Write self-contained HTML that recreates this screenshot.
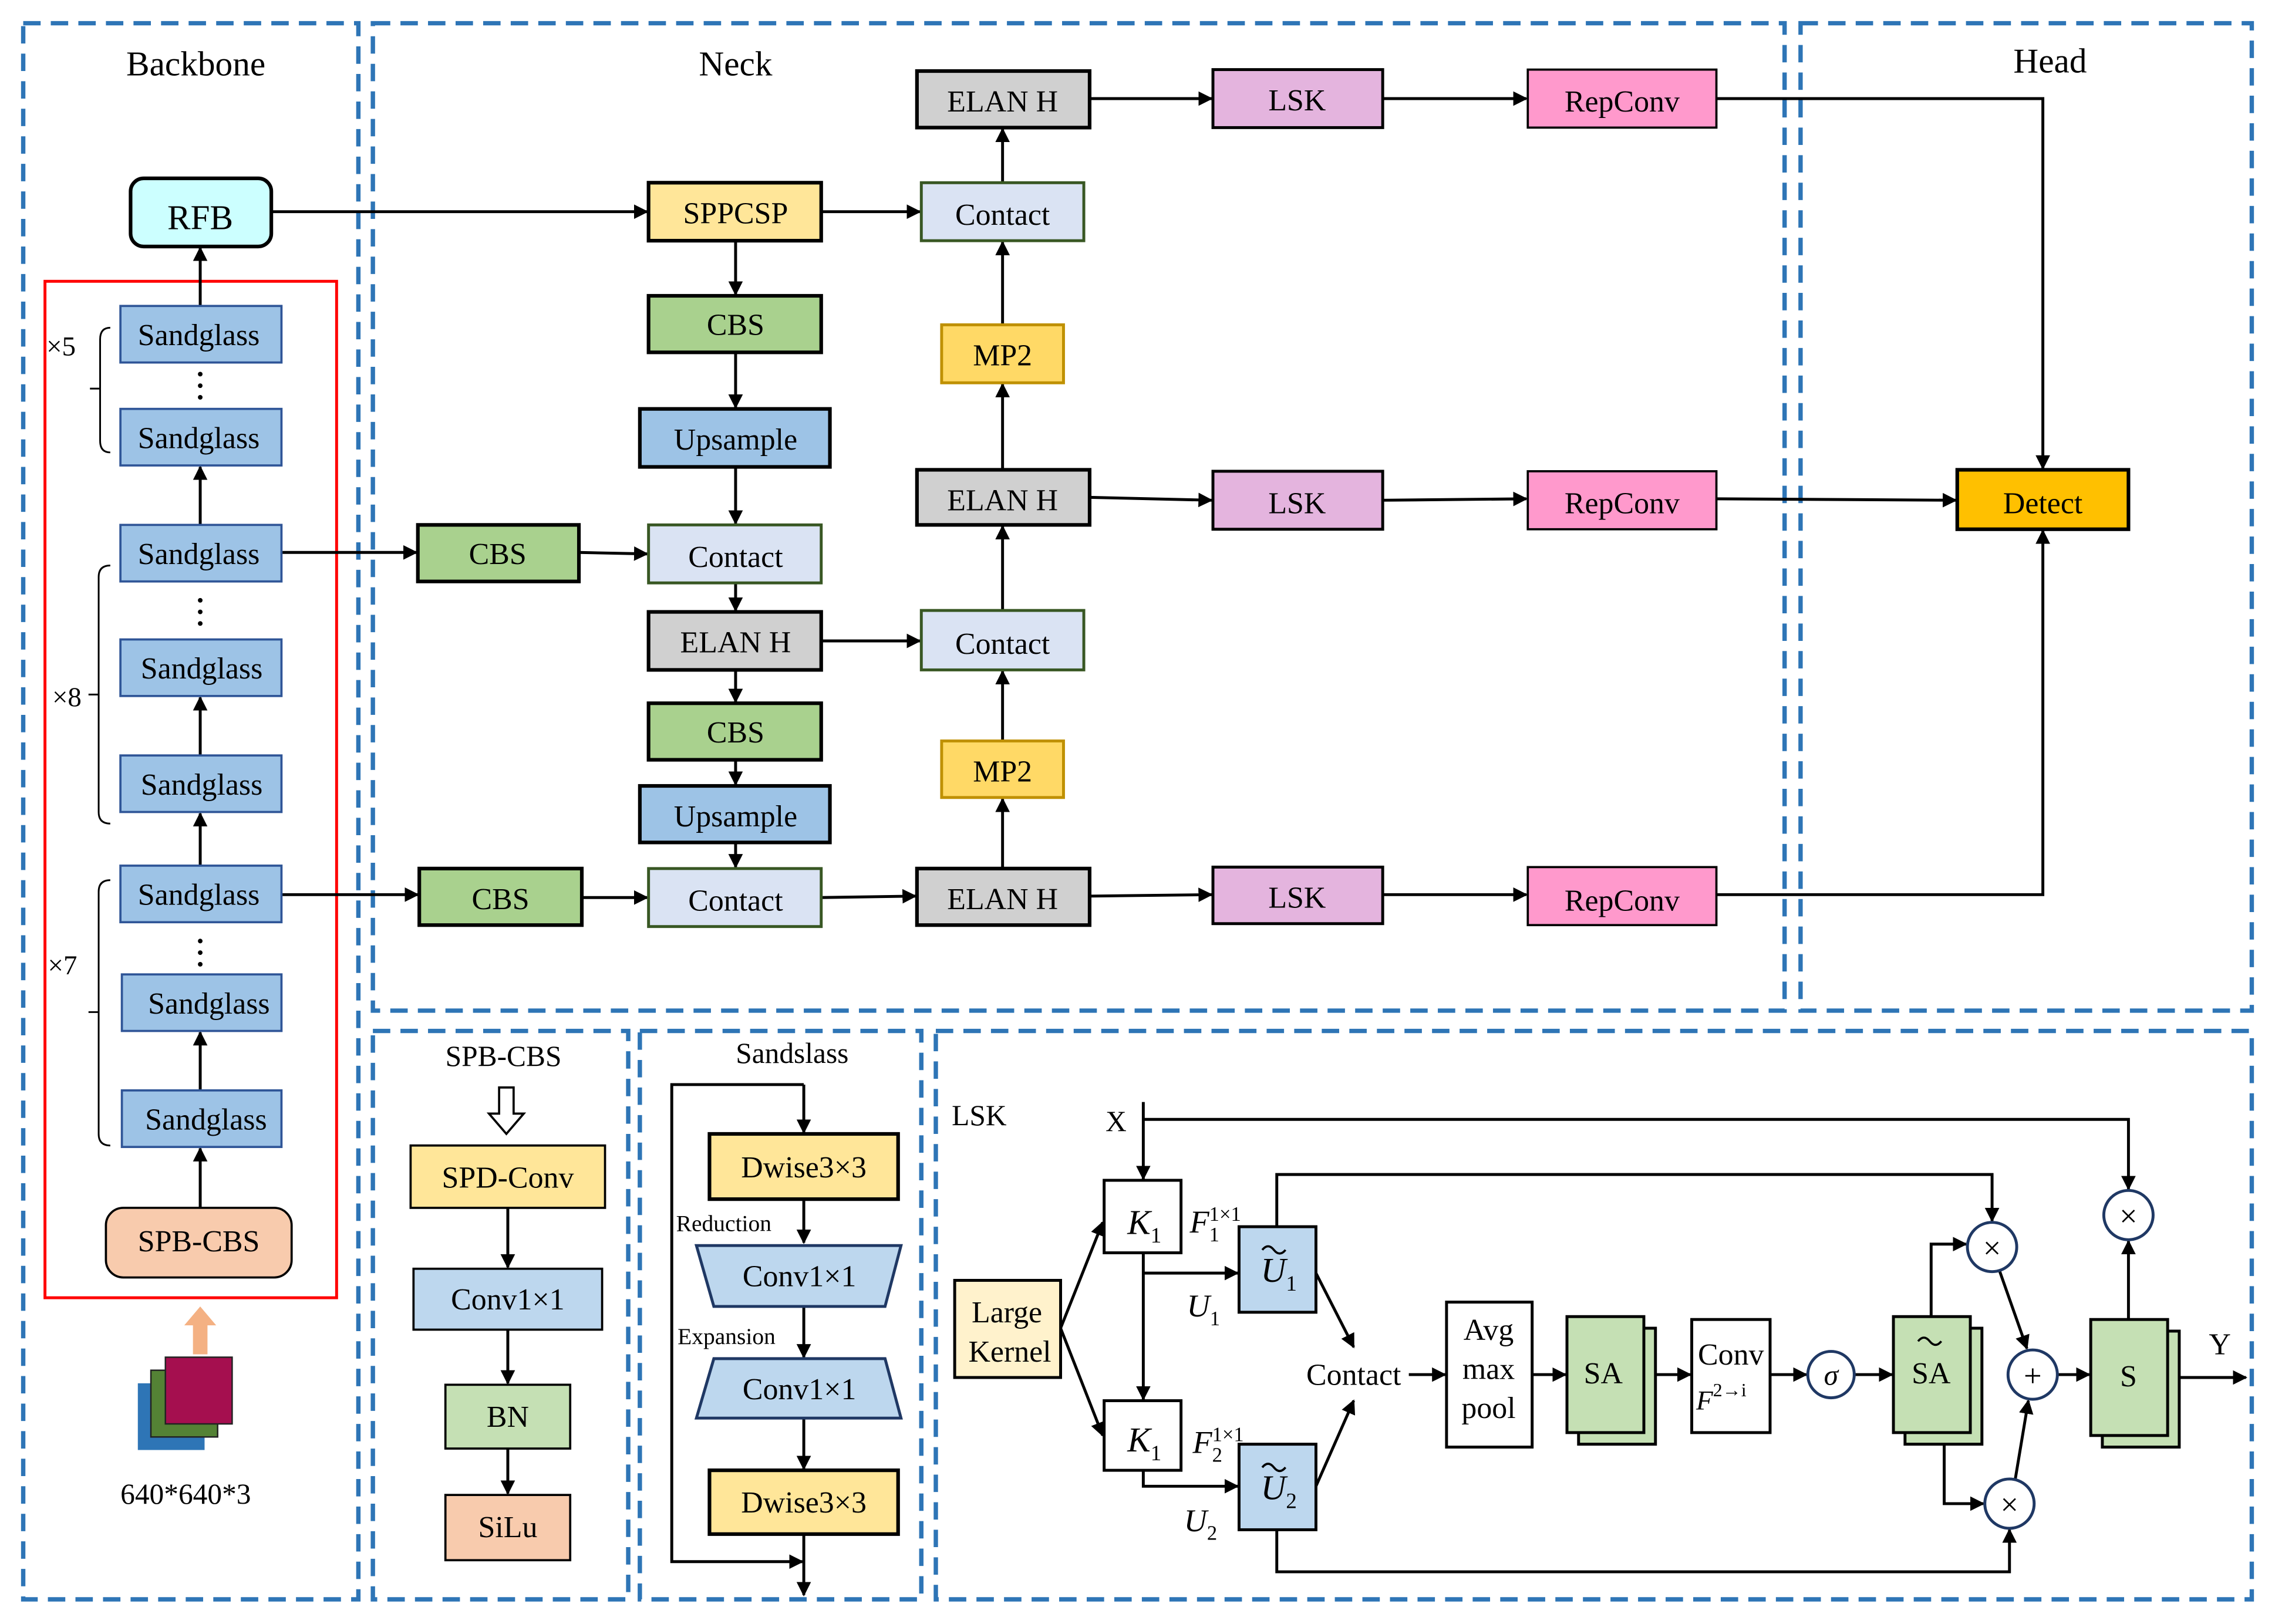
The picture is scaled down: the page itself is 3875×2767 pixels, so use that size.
<!DOCTYPE html>
<html><head><meta charset="utf-8"><style>
html,body{margin:0;padding:0;background:#fff}
svg{display:block}
svg, svg text{font-family:"Liberation Serif","DejaVu Serif",serif !important;fill:#000}
</style></head><body>
<svg width="3875" height="2767" viewBox="0 0 1568 1120" preserveAspectRatio="none" xmlns="http://www.w3.org/2000/svg" font-family="Liberation Serif, DejaVu Serif, serif">
<defs>
<marker id="a" markerWidth="10" markerHeight="10" refX="9" refY="5" orient="auto" markerUnits="userSpaceOnUse"><path d="M0,0 L10,5 L0,10 z" fill="#000"/></marker>
</defs>
<g fill="none" stroke="#2e75b6" stroke-width="3" stroke-dasharray="12,7">
<rect x="16" y="16" width="231" height="1087"/>
<rect x="257" y="16" width="973" height="681"/>
<rect x="1241" y="16" width="311" height="681"/>
<rect x="257" y="711" width="176" height="392"/>
<rect x="441" y="711" width="194" height="392"/>
<rect x="645" y="711" width="907" height="392"/>
</g>
<g font-size="24" text-anchor="middle">
<text x="135" y="52">Backbone</text><text x="507" y="52">Neck</text><text x="1413" y="50">Head</text>
</g>
<rect x="31" y="194" width="201" height="701" fill="none" stroke="#f00" stroke-width="2"/>
<g stroke="#000" stroke-width="2" fill="none" marker-end="url(#a)">
<line x1="138" y1="211" x2="138" y2="171"/>
<line x1="138" y1="362" x2="138" y2="322"/>
<line x1="138" y1="521" x2="138" y2="481"/>
<line x1="138" y1="597" x2="138" y2="561"/>
<line x1="138" y1="752" x2="138" y2="712"/>
<line x1="138" y1="833" x2="138" y2="792"/>
<line x1="187" y1="146" x2="446" y2="146"/>
<line x1="194" y1="381" x2="287" y2="381"/>
<line x1="399" y1="381" x2="446" y2="382"/>
<line x1="194" y1="617" x2="288" y2="617"/>
<line x1="401" y1="619" x2="446" y2="619"/>
<line x1="507" y1="166" x2="507" y2="203"/>
<line x1="507" y1="243" x2="507" y2="281"/>
<line x1="507" y1="322" x2="507" y2="361"/>
<line x1="507" y1="402" x2="507" y2="421"/>
<line x1="507" y1="462" x2="507" y2="484"/>
<line x1="507" y1="524" x2="507" y2="541"/>
<line x1="507" y1="581" x2="507" y2="598"/>
<line x1="566" y1="146" x2="634" y2="146"/>
<line x1="566" y1="442" x2="634" y2="442"/>
<line x1="566" y1="619" x2="631" y2="618"/>
<line x1="691" y1="126" x2="691" y2="89"/>
<line x1="691" y1="224" x2="691" y2="167"/>
<line x1="691" y1="324" x2="691" y2="265"/>
<line x1="691" y1="421" x2="691" y2="363"/>
<line x1="691" y1="511" x2="691" y2="463"/>
<line x1="691" y1="599" x2="691" y2="551"/>
<line x1="751" y1="68" x2="835" y2="68"/>
<line x1="751" y1="343" x2="835" y2="345"/>
<line x1="751" y1="618" x2="835" y2="617"/>
<line x1="953" y1="68" x2="1052" y2="68"/>
<line x1="953" y1="345" x2="1052" y2="344"/>
<line x1="953" y1="617" x2="1052" y2="617"/>
<polyline points="1183,68 1408,68 1408,323"/>
<line x1="1183" y1="344" x2="1348" y2="345"/>
<polyline points="1183,617 1408,617 1408,366"/>
<line x1="350" y1="833" x2="350" y2="874"/>
<line x1="350" y1="917" x2="350" y2="954"/>
<line x1="350" y1="999" x2="350" y2="1030"/>
<line x1="554" y1="748" x2="554" y2="781"/>
<line x1="554" y1="827" x2="554" y2="857"/>
<line x1="554" y1="901" x2="554" y2="936"/>
<line x1="554" y1="978" x2="554" y2="1013"/>
<line x1="554" y1="1058" x2="554" y2="1100"/>
<polyline points="554,748 463,748 463,1077 553,1077"/>
</g>
<rect x="90" y="123" width="97" height="47" rx="9" fill="#ccffff" stroke="#000" stroke-width="2.5"/>
<text x="138" y="158" font-size="24" text-anchor="middle">RFB</text>
<g fill="#9dc3e6" stroke="#2f5597" stroke-width="1.5">
<rect x="83" y="211" width="111" height="39"/><rect x="83" y="282" width="111" height="39"/>
<rect x="83" y="362" width="111" height="39"/><rect x="83" y="441" width="111" height="39"/>
<rect x="83" y="521" width="111" height="39"/><rect x="83" y="597" width="111" height="39"/>
<rect x="84" y="672" width="110" height="39"/><rect x="84" y="752" width="110" height="39"/>
</g>
<g font-size="21" text-anchor="middle">
<text x="137" y="238">Sandglass</text><text x="137" y="309">Sandglass</text>
<text x="137" y="389">Sandglass</text><text x="139" y="468">Sandglass</text>
<text x="139" y="548">Sandglass</text><text x="137" y="624">Sandglass</text>
<text x="144" y="699">Sandglass</text><text x="142" y="779">Sandglass</text>
</g>
<g fill="#000">
<circle cx="138" cy="258" r="1.6"/><circle cx="138" cy="266" r="1.6"/><circle cx="138" cy="274" r="1.6"/>
<circle cx="138" cy="414" r="1.6"/><circle cx="138" cy="422" r="1.6"/><circle cx="138" cy="430" r="1.6"/>
<circle cx="138" cy="649" r="1.6"/><circle cx="138" cy="657" r="1.6"/><circle cx="138" cy="665" r="1.6"/>
</g>
<g stroke="#000" stroke-width="1.2" fill="none">
<path d="M76,226 Q69,226 69,234 L69,304 Q69,312 76,312 M69,268 L62,268"/>
<path d="M76,390 Q68,390 68,398 L68,560 Q68,568 76,568 M68,479 L61,479"/>
<path d="M76,607 Q68,607 68,615 L68,782 Q68,790 76,790 M68,698 L61,698"/>
</g>
<g font-size="19"><text x="32" y="245">×5</text><text x="36" y="487">×8</text><text x="33" y="672">×7</text></g>
<rect x="73" y="833" width="128" height="48" rx="12" fill="#f8cbad" stroke="#000" stroke-width="1.5"/>
<text x="137" y="863" font-size="21" text-anchor="middle">SPB-CBS</text>
<path d="M133,934 L133,914 L127,914 L138,901 L149,914 L143,914 L143,934 z" fill="#f4b183"/>
<rect x="95" y="954" width="46" height="46" fill="#2e75b6"/>
<rect x="104" y="945" width="46" height="46" fill="#548235" stroke="#222" stroke-width="1"/>
<rect x="114" y="936" width="46" height="46" fill="#a50f4f" stroke="#222" stroke-width="1"/>
<text x="128" y="1037" font-size="20" text-anchor="middle">640*640*3</text>
<g stroke="#000" stroke-width="2.5">
<rect x="447" y="126" width="119" height="40" fill="#ffe699"/>
<rect x="447" y="204" width="119" height="39" fill="#a9d18e"/>
<rect x="441" y="282" width="131" height="40" fill="#9dc3e6"/>
<rect x="447" y="422" width="119" height="40" fill="#d0d0d0"/>
<rect x="447" y="485" width="119" height="39" fill="#a9d18e"/>
<rect x="441" y="542" width="131" height="39" fill="#9dc3e6"/>
<rect x="288" y="362" width="111" height="39" fill="#a9d18e"/>
<rect x="289" y="599" width="112" height="39" fill="#a9d18e"/>
<rect x="632" y="49" width="119" height="39" fill="#d0d0d0"/>
<rect x="632" y="324" width="119" height="38" fill="#d0d0d0"/>
<rect x="632" y="599" width="119" height="39" fill="#d0d0d0"/>
<rect x="1349" y="324" width="118" height="41" fill="#ffc000"/>
</g>
<g stroke="#385723" stroke-width="2" fill="#dae3f3">
<rect x="447" y="362" width="119" height="40"/><rect x="447" y="599" width="119" height="40"/>
<rect x="635" y="126" width="112" height="40"/><rect x="635" y="421" width="112" height="41"/>
</g>
<g stroke="#bf9000" stroke-width="2" fill="#ffd966">
<rect x="649" y="224" width="84" height="40"/><rect x="649" y="511" width="84" height="39"/>
</g>
<g stroke="#000" stroke-width="2" fill="#e4b4de">
<rect x="836" y="48" width="117" height="40"/><rect x="836" y="325" width="117" height="40"/><rect x="836" y="598" width="117" height="39"/>
</g>
<g stroke="#000" stroke-width="1.5" fill="#ff99cc">
<rect x="1053" y="48" width="130" height="40"/><rect x="1053" y="325" width="130" height="40"/><rect x="1053" y="598" width="130" height="40"/>
</g>
<g font-size="21" text-anchor="middle">
<text x="507" y="154">SPPCSP</text><text x="507" y="231">CBS</text><text x="507" y="310">Upsample</text>
<text x="507" y="391">Contact</text><text x="507" y="450">ELAN H</text><text x="507" y="512">CBS</text>
<text x="507" y="570">Upsample</text><text x="507" y="628">Contact</text>
<text x="343" y="389">CBS</text><text x="345" y="627">CBS</text>
<text x="691" y="77">ELAN H</text><text x="691" y="155">Contact</text><text x="691" y="252">MP2</text>
<text x="691" y="352">ELAN H</text><text x="691" y="451">Contact</text><text x="691" y="539">MP2</text>
<text x="691" y="627">ELAN H</text>
<text x="894" y="76">LSK</text><text x="894" y="354">LSK</text><text x="894" y="626">LSK</text>
<text x="1118" y="77">RepConv</text><text x="1118" y="354">RepConv</text><text x="1118" y="628">RepConv</text>
<text x="1408" y="354">Detect</text>
</g>
<text x="347" y="735" font-size="20" text-anchor="middle">SPB-CBS</text>
<path d="M344,750 L354,750 L354,768 L361,768 L349,782 L337,768 L344,768 z" fill="#fff" stroke="#000" stroke-width="1.5"/>
<rect x="283" y="790" width="134" height="43" fill="#ffe699" stroke="#000" stroke-width="1.5"/>
<rect x="285" y="875" width="130" height="42" fill="#bdd7ee" stroke="#000" stroke-width="1.5"/>
<rect x="307" y="955" width="86" height="44" fill="#c5e0b4" stroke="#000" stroke-width="1.5"/>
<rect x="307" y="1031" width="86" height="45" fill="#f8cbad" stroke="#000" stroke-width="1.5"/>
<g font-size="21" text-anchor="middle">
<text x="350" y="819">SPD-Conv</text><text x="350" y="903">Conv1×1</text><text x="350" y="984">BN</text><text x="350" y="1060">SiLu</text>
</g>
<text x="546" y="733" font-size="20" text-anchor="middle">Sandslass</text>
<rect x="489" y="782" width="130" height="45" fill="#ffe699" stroke="#000" stroke-width="2.5"/>
<rect x="489" y="1014" width="130" height="44" fill="#ffe699" stroke="#000" stroke-width="2.5"/>
<path d="M480,859 L621,859 L610,901 L492,901 z" fill="#bdd7ee" stroke="#1f3864" stroke-width="2"/>
<path d="M492,937 L610,937 L621,978 L480,978 z" fill="#bdd7ee" stroke="#1f3864" stroke-width="2"/>
<g font-size="21" text-anchor="middle">
<text x="554" y="812">Dwise3×3</text><text x="551" y="887">Conv1×1</text><text x="551" y="965">Conv1×1</text><text x="554" y="1043">Dwise3×3</text>
</g>
<text x="466" y="849" font-size="16">Reduction</text>
<text x="467" y="927" font-size="16">Expansion</text>
<text x="656" y="776" font-size="20">LSK</text>
<text x="762" y="780" font-size="20">X</text>
<g stroke="#000" stroke-width="2" fill="none" marker-end="url(#a)">
<line x1="788" y1="760" x2="788" y2="813"/>
<polyline points="788,772 1467,772 1467,820"/>
<line x1="731" y1="916" x2="760" y2="843"/>
<line x1="731" y1="916" x2="760" y2="990"/>
<line x1="788" y1="864" x2="788" y2="965"/>
<line x1="788" y1="878" x2="853" y2="878"/>
<polyline points="788,1014 788,1025 853,1025"/>
<polyline points="880,846 880,810 1373,810 1373,842"/>
<polyline points="880,1055 880,1084 1385,1084 1385,1055"/>
<line x1="907" y1="878" x2="933" y2="929"/>
<line x1="907" y1="1025" x2="933" y2="966"/>
<line x1="971" y1="948" x2="996" y2="948"/>
<line x1="1056" y1="948" x2="1079" y2="948"/>
<line x1="1141" y1="948" x2="1165" y2="948"/>
<line x1="1220" y1="948" x2="1245" y2="948"/>
<line x1="1278" y1="948" x2="1304" y2="948"/>
<polyline points="1331,908 1331,858 1355,858"/>
<polyline points="1340,996 1340,1037 1367,1037"/>
<line x1="1378" y1="876" x2="1397" y2="930"/>
<line x1="1389" y1="1020" x2="1398" y2="966"/>
<line x1="1418" y1="948" x2="1440" y2="948"/>
<line x1="1467" y1="910" x2="1467" y2="856"/>
<line x1="1502" y1="950" x2="1548" y2="950"/>
</g>
<rect x="658" y="883" width="73" height="67" fill="#fff2cc" stroke="#000" stroke-width="2"/>
<text x="694" y="912" font-size="21" text-anchor="middle">Large</text>
<text x="696" y="939" font-size="21" text-anchor="middle">Kernel</text>
<g stroke="#000" stroke-width="2" fill="#fff">
<rect x="761" y="814" width="53" height="50"/><rect x="761" y="966" width="53" height="48"/>
<rect x="997" y="898" width="59" height="100"/><rect x="1166" y="910" width="54" height="78"/>
</g>
<g stroke="#000" stroke-width="2" fill="#bdd7ee">
<rect x="854" y="846" width="53" height="59"/><rect x="854" y="996" width="53" height="59"/>
</g>
<g stroke="#000" stroke-width="2" fill="#c5e0b4">
<rect x="1088" y="916" width="53" height="80"/><rect x="1080" y="908" width="53" height="80"/>
<rect x="1313" y="916" width="53" height="80"/><rect x="1305" y="908" width="53" height="80"/>
<rect x="1449" y="918" width="53" height="80"/><rect x="1441" y="910" width="53" height="80"/>
</g>
<g stroke="#1f3864" stroke-width="2" fill="#fff">
<circle cx="1467" cy="838" r="17"/><circle cx="1373" cy="860" r="17"/><circle cx="1385" cy="1037" r="17"/>
<circle cx="1401" cy="948" r="17"/><circle cx="1262" cy="948" r="16"/>
</g>
<g font-size="22" text-anchor="middle">
<text x="1467" y="846">×</text><text x="1373" y="868">×</text><text x="1385" y="1045">×</text><text x="1401" y="956">+</text>
<text x="1262" y="955" font-style="italic" font-size="20">σ</text>
</g>
<g font-size="24" font-style="italic">
<text x="777" y="851">K<tspan font-style="normal" font-size="15" dy="6">1</tspan></text>
<text x="777" y="1001">K<tspan font-style="normal" font-size="15" dy="6">1</tspan></text>
<text x="869" y="884">U<tspan font-style="normal" font-size="15" dy="6">1</tspan></text>
<text x="869" y="1034">U<tspan font-style="normal" font-size="15" dy="6">2</tspan></text>
<text x="818" y="908" font-size="22">U<tspan font-style="normal" font-size="14" dy="6">1</tspan></text>
<text x="816" y="1056" font-size="22">U<tspan font-style="normal" font-size="14" dy="6">2</tspan></text>
<text x="820" y="850" font-size="22">F<tspan font-style="normal" font-size="14" dy="6">1</tspan><tspan font-style="normal" font-size="14" dy="-14" dx="-7">1×1</tspan></text>
<text x="822" y="1002" font-size="22">F<tspan font-style="normal" font-size="14" dy="6">2</tspan><tspan font-style="normal" font-size="14" dy="-14" dx="-7">1×1</tspan></text>
</g>
<g stroke="#000" stroke-width="1.5" fill="none">
<path d="M870,862 q4,-5 8,0 t8,0"/><path d="M870,1012 q4,-5 8,0 t8,0"/><path d="M1322,925 q4,-5 8,0 t8,0"/>
</g>
<g font-size="21" text-anchor="middle" fill="#000">
<text x="933" y="955">Contact</text>
<text x="1026" y="924">Avg</text><text x="1026" y="951">max</text><text x="1026" y="978">pool</text>
<text x="1105" y="954">SA</text>
<text x="1193" y="941">Conv</text>
<text x="1331" y="954">SA</text>
<text x="1467" y="956">S</text>
<text x="1530" y="934">Y</text>
</g>
<text x="1169" y="972" font-size="19" font-style="italic">F<tspan font-size="13" font-style="normal" dy="-9">2→i</tspan></text>
</svg>
</body></html>
